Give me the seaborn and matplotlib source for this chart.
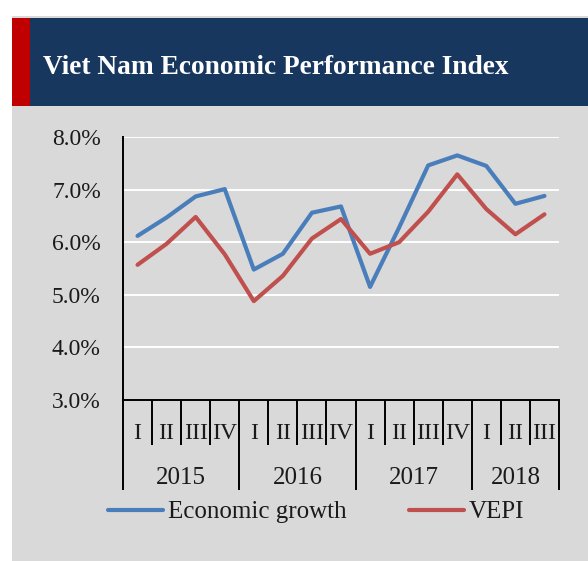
import matplotlib
matplotlib.use("Agg")
import matplotlib.pyplot as plt
import matplotlib.transforms as mtrans
from matplotlib.patches import Rectangle
import seaborn as sns
import pandas as pd

# ---- data ----
title = "Viet Nam Economic Performance Index"
years = ["2015", "2016", "2017", "2018"]
year_counts = [4, 4, 4, 3]
quarters = ["I", "II", "III", "IV", "I", "II", "III", "IV",
            "I", "II", "III", "IV", "I", "II", "III"]
series_names = ["Economic growth", "VEPI"]
growth = [6.12, 6.47, 6.87, 7.01, 5.48, 5.78, 6.56, 6.68,
          5.15, 6.28, 7.46, 7.65, 7.45, 6.73, 6.88]
vepi = [5.57, 5.97, 6.48, 5.77, 4.88, 5.36, 6.07, 6.44,
        5.78, 6.00, 6.58, 7.29, 6.63, 6.15, 6.53]
y_ticks = [3, 4, 5, 6, 7, 8]
y_labels = ["3.0%", "4.0%", "5.0%", "6.0%", "7.0%", "8.0%"]

# ---- style ----
sns.set_theme(style="white")
plt.rcParams['font.family'] = ['Liberation Serif', 'DejaVu Serif']

W, H = 588, 561
fig = plt.figure(figsize=(W / 100, H / 100), dpi=100)
fig.patch.set_facecolor('white')

def fx(px):
    return px / W

def fy(py):
    return 1 - py / H

# background panel and title bar
fig.add_artist(Rectangle((fx(12), 0), 1 - fx(12), fy(16), transform=fig.transFigure,
                         facecolor='#d9d9d9', edgecolor='none', zorder=0))
fig.add_artist(Rectangle((fx(12), fy(106)), 1 - fx(12), fy(18) - fy(106),
                         transform=fig.transFigure, facecolor='#17375e',
                         edgecolor='none', zorder=1))
fig.add_artist(Rectangle((fx(12), fy(106)), fx(30) - fx(12), fy(18) - fy(106),
                         transform=fig.transFigure, facecolor='#c00000',
                         edgecolor='none', zorder=2))
fig.text(fx(43), fy(74), title, color='white', fontweight='bold', fontsize=19.7,
         ha='left', va='baseline', zorder=3)

# ---- axes ----
ax = fig.add_axes([fx(123), fy(400), fx(559) - fx(123), fy(137) - fy(400)])
ax.set_facecolor('#d9d9d9')

n = len(quarters)
df = pd.DataFrame({
    'idx': list(range(n)) * 2,
    'value': growth + vepi,
    'series': [series_names[0]] * n + [series_names[1]] * n,
})
sns.lineplot(data=df, x='idx', y='value', hue='series',
             palette=['#4a7ebb', '#c0504d'], linewidth=3.0, ax=ax,
             solid_capstyle='round')

ax.set_xlim(-0.5, n - 0.5)
ax.set_ylim(3, 8)
ax.set_yticks(y_ticks)
ax.set_yticklabels(y_labels, fontsize=17, color='#1a1a1a')
ax.tick_params(axis='y', length=0, pad=16)
ax.set_xticks([])
ax.set_xlabel('')
ax.set_ylabel('')
ax.grid(axis='y', color='white', linewidth=1.4)
ax.grid(axis='x', visible=False)
ax.set_axisbelow(True)
for s in ['top', 'right']:
    ax.spines[s].set_visible(False)
for s in ['left', 'bottom']:
    ax.spines[s].set_color('black')
    ax.spines[s].set_linewidth(1.4)

# multi-level category axis
trans = mtrans.blended_transform_factory(ax.transData, ax.transAxes)
ax_h = 400 - 137
year_bounds = [0]
for c in year_counts:
    year_bounds.append(year_bounds[-1] + c)
for b in range(n + 1):
    depth = 90 / ax_h if b in year_bounds else 45 / ax_h
    ax.plot([b - 0.5, b - 0.5], [0, -depth], transform=trans, color='black',
            linewidth=1.4, clip_on=False, solid_capstyle='butt')
for i, q in enumerate(quarters):
    ax.text(i, -39 / ax_h, q, transform=trans, ha='center', va='baseline',
            fontsize=17, color='#1a1a1a')
for k, yr in enumerate(years):
    center = (year_bounds[k] + year_bounds[k + 1] - 1) / 2
    ax.text(center, -84 / ax_h, yr, transform=trans, ha='center', va='baseline',
            fontsize=18, color='#1a1a1a')

# legend
handles, labels = ax.get_legend_handles_labels()
leg = ax.legend(handles, labels, loc='center left',
                bbox_to_anchor=(fx(108), fy(512)), bbox_transform=fig.transFigure,
                ncol=2, frameon=False, fontsize=18, handlelength=2.2,
                handletextpad=0.2, columnspacing=2.5, borderpad=0,
                borderaxespad=0)
for t in leg.get_texts():
    t.set_color('#1a1a1a')

fig.savefig('out.png', dpi=100)
